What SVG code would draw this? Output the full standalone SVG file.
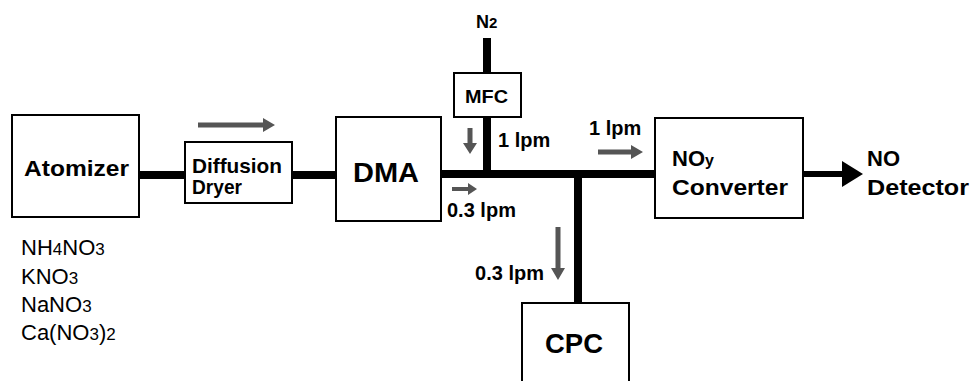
<svg xmlns="http://www.w3.org/2000/svg" width="971" height="381" viewBox="0 0 971 381">
<style>
.box{fill:#fff;stroke:#000;stroke-width:2}
.pipe{stroke:#000;stroke-width:8;fill:none}
.t{font-family:"Liberation Sans",Arial,sans-serif;font-weight:bold;fill:#000}
.r{font-family:"Liberation Sans",Arial,sans-serif;fill:#000}
.flow{fill:#555}
</style>
<rect width="971" height="381" fill="#fff"/>
<g id="connectors">
<line class="pipe" x1="139" y1="175" x2="186" y2="175"/>
<line class="pipe" x1="291" y1="175" x2="337" y2="175"/>
<line class="pipe" x1="440" y1="174" x2="656" y2="174"/>
<line class="pipe" x1="487" y1="38" x2="487" y2="74" stroke-width="7"/>
<line class="pipe" x1="487" y1="116" x2="487" y2="174" stroke-width="7"/>
<line class="pipe" x1="578" y1="174" x2="578" y2="304"/>
<line x1="802" y1="174" x2="846" y2="174" stroke="#000" stroke-width="6"/>
<polygon points="842,161 863,174 842,187" fill="#000"/>
</g>
<g id="flows" class="flow">
<polygon points="198,122.5 263,122.5 263,118 275,125 263,132 263,127.5 198,127.5"/>
<polygon points="467.5,128 472.5,128 472.5,143 477,143 470,154 463,143 467.5,143"/>
<polygon points="598,149.5 631,149.5 631,145 643,152 631,159 631,154.5 598,154.5"/>
<polygon points="452,187 468,187 468,183 477,189 468,195 468,191 452,191"/>
<polygon points="555.5,227 560.5,227 560.5,268 565,268 558,280 551,268 555.5,268"/>
</g>
<g id="atomizer">
<rect class="box" x="12" y="115" width="127" height="102"/>
<text class="t" x="24" y="176" font-size="22" textLength="105" lengthAdjust="spacingAndGlyphs">Atomizer</text>
</g>
<g id="salts" class="r" font-size="22">
<text x="21" y="255">NH<tspan font-size="17">4</tspan>NO<tspan font-size="17">3</tspan></text>
<text x="21" y="284">KNO<tspan font-size="17">3</tspan></text>
<text x="21" y="312">NaNO<tspan font-size="17">3</tspan></text>
<text x="21" y="340">Ca(NO<tspan font-size="17">3</tspan>)<tspan font-size="17">2</tspan></text>
</g>
<g id="dryer">
<rect class="box" x="185" y="142" width="107" height="61"/>
<text class="t" x="192" y="173" font-size="21" textLength="90" lengthAdjust="spacingAndGlyphs">Diffusion</text>
<text class="t" x="192" y="194" font-size="21" textLength="50" lengthAdjust="spacingAndGlyphs">Dryer</text>
</g>
<g id="dma">
<rect class="box" x="336" y="117" width="105" height="104"/>
<text class="t" x="353" y="182" font-size="27" textLength="66" lengthAdjust="spacingAndGlyphs">DMA</text>
</g>
<g id="n2">
<text class="t" x="476" y="28" font-size="18">N<tspan font-size="15">2</tspan></text>
</g>
<g id="mfc">
<rect class="box" x="454" y="73" width="67" height="44"/>
<text class="t" x="465" y="103" font-size="19" textLength="43" lengthAdjust="spacingAndGlyphs">MFC</text>
</g>
<g id="labels" class="t" font-size="20">
<text x="498" y="147">1 lpm</text>
<text x="589" y="135">1 lpm</text>
<text x="447" y="217">0.3 lpm</text>
<text x="544" y="280" text-anchor="end">0.3 lpm</text>
</g>
<g id="converter">
<rect class="box" x="655" y="118" width="148" height="100"/>
<text class="t" x="672" y="166" font-size="22">NO<tspan font-size="16">y</tspan></text>
<text class="t" x="672" y="195" font-size="22" textLength="116" lengthAdjust="spacingAndGlyphs">Converter</text>
</g>
<g id="detector">
<text class="t" x="867" y="166" font-size="22">NO</text>
<text class="t" x="867" y="195" font-size="22" textLength="102" lengthAdjust="spacingAndGlyphs">Detector</text>
</g>
<g id="cpc">
<rect class="box" x="522" y="303" width="107" height="90"/>
<text class="t" x="545" y="353" font-size="28" textLength="58" lengthAdjust="spacingAndGlyphs">CPC</text>
</g>
</svg>
